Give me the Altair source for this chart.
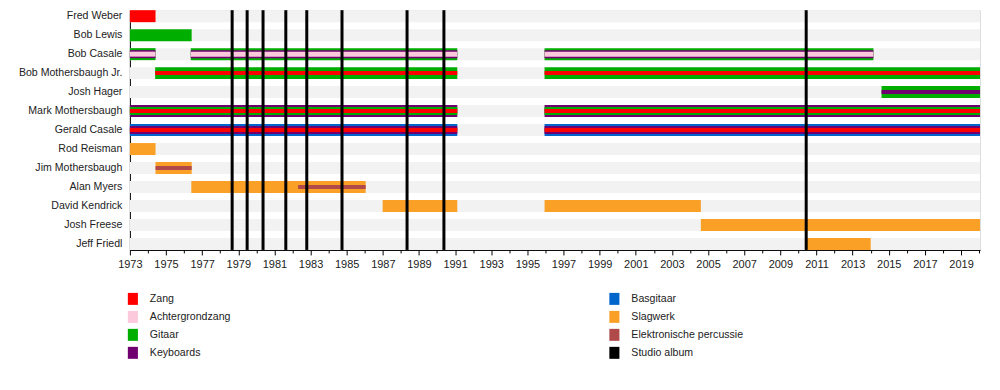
import altair as alt
import pandas as pd

# ---------------- data ----------------
members = [
    "Fred Weber", "Bob Lewis", "Bob Casale", "Bob Mothersbaugh Jr.", "Josh Hager",
    "Mark Mothersbaugh", "Gerald Casale", "Rod Reisman", "Jim Mothersbaugh",
    "Alan Myers", "David Kendrick", "Josh Freese", "Jeff Friedl",
]

timeline_start = 1973
timeline_end = 2020.05

# legend order (two columns, filled column by column)
roles = ["Zang", "Achtergrondzang", "Gitaar", "Keyboards",
         "Basgitaar", "Slagwerk", "Elektronische percussie", "Studio album"]
role_colors = ["#ff0000", "#fcc8dc", "#00ae00", "#700070",
               "#0066cc", "#faa026", "#b04a4a", "#000000"]

seg_member = [
    "Fred Weber",
    "Bob Lewis",
    "Bob Casale", "Bob Casale", "Bob Casale",
    "Bob Casale", "Bob Casale", "Bob Casale",
    "Bob Casale", "Bob Casale", "Bob Casale",
    "Bob Mothersbaugh Jr.", "Bob Mothersbaugh Jr.",
    "Bob Mothersbaugh Jr.", "Bob Mothersbaugh Jr.",
    "Josh Hager", "Josh Hager",
    "Mark Mothersbaugh", "Mark Mothersbaugh",
    "Mark Mothersbaugh", "Mark Mothersbaugh",
    "Mark Mothersbaugh", "Mark Mothersbaugh",
    "Gerald Casale", "Gerald Casale",
    "Gerald Casale", "Gerald Casale",
    "Gerald Casale", "Gerald Casale",
    "Rod Reisman",
    "Jim Mothersbaugh", "Jim Mothersbaugh",
    "Alan Myers", "Alan Myers",
    "David Kendrick", "David Kendrick",
    "Josh Freese",
    "Jeff Friedl",
]
seg_role = [
    "Zang",
    "Gitaar",
    "Gitaar", "Gitaar", "Gitaar",
    "Keyboards", "Keyboards", "Keyboards",
    "Achtergrondzang", "Achtergrondzang", "Achtergrondzang",
    "Gitaar", "Gitaar",
    "Zang", "Zang",
    "Gitaar", "Keyboards",
    "Keyboards", "Keyboards",
    "Gitaar", "Gitaar",
    "Zang", "Zang",
    "Basgitaar", "Basgitaar",
    "Keyboards", "Keyboards",
    "Zang", "Zang",
    "Slagwerk",
    "Slagwerk", "Elektronische percussie",
    "Slagwerk", "Elektronische percussie",
    "Slagwerk", "Slagwerk",
    "Slagwerk",
    "Slagwerk",
]
seg_start = [
    1973.0,
    1973.0,
    1973.0, 1976.37, 1995.95,
    1973.0, 1976.37, 1995.95,
    1973.0, 1976.37, 1995.95,
    1974.4, 1995.95,
    1974.4, 1995.95,
    2014.6, 2014.6,
    1973.0, 1995.95,
    1973.0, 1995.95,
    1973.0, 1995.95,
    1973.0, 1995.95,
    1973.0, 1995.95,
    1973.0, 1995.95,
    1973.0,
    1974.42, 1974.42,
    1976.4, 1982.31,
    1986.99, 1995.95,
    2004.6,
    2010.4,
]
seg_end = [
    1974.42,
    1976.42,
    1974.42, 1991.12, 2014.15,
    1974.42, 1991.12, 2014.15,
    1974.42, 1991.12, 2014.15,
    1991.12, 2020.05,
    1991.12, 2020.05,
    2020.05, 2020.05,
    1991.12, 2020.05,
    1991.12, 2020.05,
    1991.12, 2020.05,
    1991.12, 2020.05,
    1991.12, 2020.05,
    1991.12, 2020.05,
    1974.42,
    1976.42, 1976.42,
    1986.05, 1986.05,
    1991.12, 2004.6,
    2020.05,
    2014.0,
]

album_years = [1978.66, 1979.49, 1980.37, 1981.63, 1982.79, 1984.74,
               1988.34, 1990.38, 2010.43]

# ---------------- style ----------------
FONT = "Liberation Sans"
FULL = 12
stripe_thickness = {
    ("Bob Casale", "Keyboards"): 8,
    ("Bob Casale", "Achtergrondzang"): 5,
    ("Bob Mothersbaugh Jr.", "Zang"): 4,
    ("Josh Hager", "Keyboards"): 4,
    ("Mark Mothersbaugh", "Gitaar"): 8,
    ("Mark Mothersbaugh", "Zang"): 4,
    ("Gerald Casale", "Keyboards"): 8,
    ("Gerald Casale", "Zang"): 4,
    ("Jim Mothersbaugh", "Elektronische percussie"): 4,
    ("Alan Myers", "Elektronische percussie"): 4,
}

seg = pd.DataFrame({"lid": seg_member, "rol": seg_role,
                    "begin": seg_start, "eind": seg_end})
seg["dikte"] = [stripe_thickness.get((m, r), FULL) for m, r in zip(seg.lid, seg.rol)]
seg = seg.sort_values("dikte", ascending=False, kind="stable").reset_index(drop=True)

bg = pd.DataFrame({"lid": members, "begin": timeline_start, "eind": timeline_end})
albums = pd.DataFrame({"jaar": album_years})

x_scale = alt.Scale(domain=[timeline_start, timeline_end], nice=False, zero=False)
y_scale = alt.Scale(domain=members, paddingInner=7 / 19, paddingOuter=0)

x_axis = alt.Axis(
    values=list(range(1973, 2021)),
    format="d",
    labelExpr="datum.value % 2 == 1 ? datum.label : ''",
    tickSize={"condition": {"test": "datum.value % 2 == 1", "value": 5}, "value": 3},
    tickColor="black", domainColor="black", grid=False, title=None,
    labelFont=FONT, labelFontSize=11, labelColor="#222222", labelPadding=4,
    labelOverlap=False, labelFlush=False,
)
y_axis = alt.Axis(
    title=None, ticks=False, domain=True, domainColor="black", grid=False,
    labelFont=FONT, labelFontSize=10.6, labelColor="#222222", labelPadding=8,
    labelLimit=300,
)

background = alt.Chart(bg).mark_bar(color="#f2f2f2", size=FULL).encode(
    x=alt.X("begin:Q", scale=x_scale, axis=x_axis),
    x2="eind:Q",
    y=alt.Y("lid:N", scale=y_scale, axis=y_axis, sort=members),
)

bars = alt.Chart(seg).mark_bar().encode(
    x=alt.X("begin:Q", scale=x_scale, axis=x_axis),
    x2="eind:Q",
    y=alt.Y("lid:N", scale=y_scale, axis=y_axis, sort=members),
    size=alt.Size("dikte:Q", scale=None, legend=None),
    color=alt.Color(
        "rol:N",
        scale=alt.Scale(domain=roles, range=role_colors),
        legend=alt.Legend(
            title=None, orient="none", legendX=-3, legendY=283,
            columns=2, columnPadding=378, rowPadding=6, padding=0,
            symbolType="M-0.84,-1H0.84V1H-0.84Z", symbolSize=144,
            symbolStrokeWidth=0, symbolOpacity=1,
            labelFont=FONT, labelFontSize=10.6, labelColor="#222222",
            labelOffset=11,
        ),
    ),
)

rules = alt.Chart(albums).mark_rule(color="black", strokeWidth=3).encode(
    x=alt.X("jaar:Q", scale=x_scale, axis=x_axis),
)

chart = alt.layer(background, bars, rules).properties(
    width=851, height=240,
    autosize=alt.AutoSizeParams(type="none"),
    padding={"left": 122, "top": 2, "right": 12, "bottom": 125},
).configure_view(stroke="transparent").configure(background="white")

chart.save("out.html", embed_options={"renderer": "svg", "actions": False})
